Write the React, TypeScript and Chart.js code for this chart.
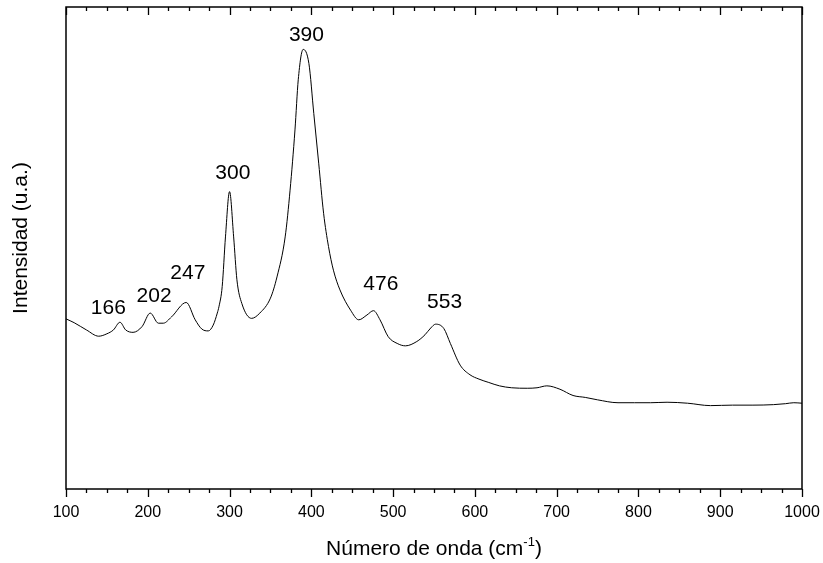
import React, { useEffect, useRef } from "react";
import { Chart, registerables } from "chart.js";

Chart.register(...registerables);

// Raman spectrum (arbitrary units)
const waveNumbers = [
  100, 110, 125, 140, 150, 158, 166, 173, 182, 193, 203, 213, 219, 229, 247,
  258, 266, 274, 280, 285, 287, 291, 295, 300, 305, 309, 315, 327, 337, 350,
  358, 368, 374, 380, 384, 390, 397, 403, 409, 415, 421, 427, 435, 448, 458,
  468, 476, 484, 494, 505, 515, 529, 539, 546, 552, 562, 570, 582, 594, 605,
  617, 630, 645, 664, 676, 688, 704, 720, 735, 750, 775, 795, 815, 835, 860,
  888, 915, 940, 965, 980, 990, 1000,
];
const intensity = [
  35.3, 34.5, 33.0, 31.7, 32.2, 33.0, 34.6, 33.0, 32.5, 33.7, 36.5, 34.4, 34.4, 35.7, 38.7,
  35.1, 33.2, 32.8, 34.0, 36.5, 37.8, 42.0, 52.3, 61.7, 52.3, 43.4, 38.5, 35.4, 36.5, 39.6,
  44.0, 52.3, 62.0, 74.5, 84.9, 91.2, 88.3, 77.9, 67.6, 57.2, 50.3, 45.4, 41.3, 37.1, 35.1,
  36.1, 37.0, 35.1, 31.6, 30.2, 29.7, 30.6, 32.0, 33.4, 34.2, 33.3, 30.2, 25.7, 23.7, 22.8,
  22.1, 21.4, 21.0, 20.9, 21.0, 21.4, 20.7, 19.4, 19.0, 18.5, 17.9, 17.9, 17.9, 18.0, 17.8,
  17.3, 17.4, 17.4, 17.5, 17.7, 17.9, 17.8,
];

// Peak annotations (text and anchor in data units)
const peakLabels = ["166", "202", "247", "300", "390", "476", "553"];
const peakLabelX = [151.8, 207.7, 249, 304, 394, 485, 563];
const peakLabelY = [37.6, 40.0, 44.8, 65.6, 94.2, 42.4, 38.8];

const xMin = 100;
const xMax = 1000;
const xMajorStep = 100;
const xMinorStep = 25;

const xTitleMain = "Número de onda (cm";
const xTitleSup = "-1";
const xTitleEnd = ")";
const yTitle = "Intensidad (u.a.)";

const FONT = "'Liberation Sans', Arial, sans-serif";

const framePlugin = {
  id: "frameAndText",
  afterDraw(chart: any) {
    const { ctx, chartArea, scales } = chart;
    const { left, right, top, bottom } = chartArea;
    const xs = scales.x;
    const ys = scales.y;
    ctx.save();
    // ticks
    ctx.strokeStyle = "#000";
    ctx.lineWidth = 1.3;
    for (let v = xMin; v <= xMax + 0.001; v += xMinorStep) {
      const major = Math.abs(v / xMajorStep - Math.round(v / xMajorStep)) < 1e-6;
      const len = major ? 8 : 4;
      const px = Math.round(xs.getPixelForValue(v)) + 0.5;
      ctx.beginPath();
      ctx.moveTo(px, bottom);
      ctx.lineTo(px, bottom + len);
      ctx.moveTo(px, top);
      ctx.lineTo(px, top + len);
      ctx.stroke();
    }
    // frame
    ctx.lineWidth = 1.5;
    ctx.strokeRect(left, top, right - left, bottom - top);

    // peak labels
    ctx.fillStyle = "#000";
    ctx.font = `21px ${FONT}`;
    ctx.textAlign = "center";
    ctx.textBaseline = "middle";
    peakLabels.forEach((t, i) => {
      ctx.fillText(t, xs.getPixelForValue(peakLabelX[i]), ys.getPixelForValue(peakLabelY[i]));
    });

    // x title with superscript
    const titleSize = 21;
    const supSize = 13;
    ctx.textBaseline = "alphabetic";
    ctx.textAlign = "left";
    ctx.font = `${titleSize}px ${FONT}`;
    const w1 = ctx.measureText(xTitleMain).width;
    const w3 = ctx.measureText(xTitleEnd).width;
    ctx.font = `${supSize}px ${FONT}`;
    const w2 = ctx.measureText(xTitleSup).width;
    const total = w1 + w2 + w3;
    const cx = (left + right) / 2;
    const baseY = 555;
    let x0 = cx - total / 2;
    ctx.font = `${titleSize}px ${FONT}`;
    ctx.fillText(xTitleMain, x0, baseY);
    x0 += w1;
    ctx.font = `${supSize}px ${FONT}`;
    ctx.fillText(xTitleSup, x0, baseY - 9);
    x0 += w2;
    ctx.font = `${titleSize}px ${FONT}`;
    ctx.fillText(xTitleEnd, x0, baseY);

    // y title
    ctx.save();
    ctx.translate(21, 238);
    ctx.rotate(-Math.PI / 2);
    ctx.textAlign = "center";
    ctx.textBaseline = "middle";
    ctx.font = `${titleSize}px ${FONT}`;
    ctx.fillText(yTitle, 0, 0);
    ctx.restore();

    ctx.restore();
  },
};

export default function App() {
  const ref = useRef<HTMLCanvasElement | null>(null);
  useEffect(() => {
    document.body.style.margin = "0";
    const canvas = ref.current;
    if (!canvas) return;
    const chart = new Chart(canvas, {
      type: "line",
      data: {
        datasets: [
          {
            data: waveNumbers.map((x, i) => ({ x, y: intensity[i] })),
            borderColor: "#000",
            borderWidth: 1,
            pointRadius: 0,
            cubicInterpolationMode: "monotone",
            fill: false,
          },
        ],
      },
      options: {
        responsive: false,
        animation: false,
        layout: { padding: { top: 7, right: 21, left: 0, bottom: 0 } },
        plugins: { legend: { display: false }, tooltip: { enabled: false } },
        scales: {
          x: {
            type: "linear",
            min: xMin,
            max: xMax,
            grid: { display: false, drawTicks: false },
            border: { display: false },
            ticks: {
              stepSize: xMajorStep,
              color: "#000",
              padding: 14,
              font: { size: 16, family: FONT },
              maxRotation: 0,
              autoSkip: false,
              callback: (v: any) => String(v),
            },
            afterFit: (s: any) => {
              s.height = 74;
              s.paddingRight = 0;
              s.paddingLeft = 0;
            },
          },
          y: {
            min: 0,
            max: 100,
            grid: { display: false, drawTicks: false },
            border: { display: false },
            ticks: { display: false },
            afterFit: (s: any) => {
              s.width = 66;
            },
          },
        },
      },
      plugins: [framePlugin],
    });
    return () => chart.destroy();
  }, []);
  return <canvas ref={ref} width={823} height={563} style={{ display: "block" }} />;
}
